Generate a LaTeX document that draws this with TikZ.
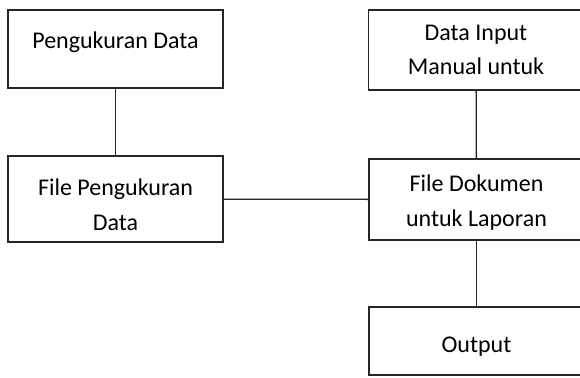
\documentclass[tikz,border=0pt]{standalone}
\usepackage{fontspec}
\setmainfont{Carlito}
% text lines sit on a fixed baseline, lowered by #1 from the box centre
\newcommand{\boxlines}[2]{\raisebox{#1}[0pt][0pt]{\begin{tabular}[b]{@{}c@{}}#2\end{tabular}}}
\tikzset{
	box/.style = {draw = black!85, line width = 1.3pt, minimum width = 215pt,
		inner sep = 0pt, font = \fontsize{24}{34.5}\selectfont},
	link/.style = {draw = black!85, line width = 1.3pt}
}
\begin{document}
\begin{tikzpicture}[x = 1pt, y = -1pt]
			\useasboundingbox (0,0) rectangle (580,377);
			\node[box, minimum height = 78pt] (pengukuran) at (115.5,49) {\boxlines{0.7pt}{Pengukuran Data}};
			\node[box, minimum height = 86pt] (filepengukuran) at (115.5,199) {\boxlines{-31pt}{File Pengukuran\\Data}};
			\node[box, minimum height = 80pt] (datainput) at (476,50) {\boxlines{-25pt}{Data Input\\Manual untuk}};
			\node[box, minimum height = 81pt] (filedokumen) at (476.5,199.5) {\boxlines{-26.5pt}{File Dokumen\\untuk Laporan}};
			\node[box, minimum height = 68pt] (output) at (476.5,341) {\boxlines{-11.7pt}{Output}};
			\draw[link] (pengukuran) -- (filepengukuran);
			\draw[link] (datainput) -- (filedokumen);
			\draw[link] (filepengukuran) -- (filedokumen);
			\draw[link] (filedokumen) -- (output);
		\end{tikzpicture}
\end{document}
